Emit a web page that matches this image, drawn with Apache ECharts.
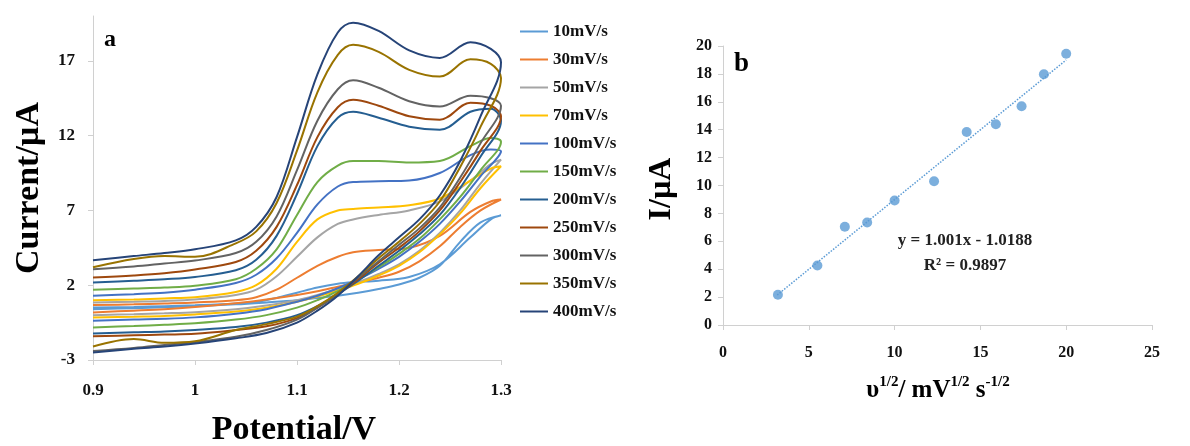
<!DOCTYPE html>
<html><head><meta charset="utf-8">
<script src="https://cdn.jsdelivr.net/npm/echarts@6/dist/echarts.min.js"></script>
<style>html,body{margin:0;padding:0;background:#fff}#c{width:1190px;height:446px}</style>
</head><body><div id="c"></div><script>
// ---- Data: panel a (cyclic voltammograms) ----
const rates = ['10mV/s','30mV/s','50mV/s','70mV/s','100mV/s','150mV/s','200mV/s','250mV/s','300mV/s','350mV/s','400mV/s'];
const upperV = [0.90, 0.94, 0.97, 1.00, 1.04, 1.06, 1.08, 1.10, 1.12, 1.14, 1.155, 1.18, 1.21, 1.24, 1.27, 1.29, 1.30];
const lowerV = [1.28, 1.26, 1.24, 1.22, 1.20, 1.18, 1.16, 1.14, 1.12, 1.10, 1.07, 1.04, 1.00, 0.97, 0.94, 0.90];
const up10  = [0.51, 0.55, 0.60, 0.66, 0.78, 0.90, 1.15, 1.50, 1.85, 2.10, 2.20, 2.30, 2.55, 3.40, 5.20, 6.40, 6.67];
const up30  = [0.67, 0.72, 0.78, 0.85, 1.00, 1.20, 1.70, 2.50, 3.30, 3.90, 4.20, 4.35, 4.50, 5.30, 6.90, 7.60, 7.73];
const up50  = [0.84, 0.90, 0.95, 1.05, 1.35, 1.70, 2.60, 3.90, 5.20, 6.10, 6.40, 6.70, 7.00, 7.60, 9.00, 10.10, 10.40];
const up70  = [1.00, 1.05, 1.12, 1.20, 1.55, 2.00, 3.10, 4.90, 6.40, 7.00, 7.10, 7.20, 7.35, 7.80, 9.00, 9.80, 9.95];
const up100 = [1.29, 1.40, 1.50, 1.70, 2.15, 2.70, 3.80, 5.50, 7.40, 8.60, 8.90, 8.95, 9.00, 9.50, 10.70, 11.07, 10.95];
const up150 = [1.69, 1.78, 1.85, 1.97, 2.40, 3.10, 4.40, 6.70, 8.90, 10.00, 10.30, 10.30, 10.20, 10.30, 11.30, 11.85, 11.60];
const up200 = [2.18, 2.30, 2.40, 2.55, 3.00, 3.70, 5.30, 8.10, 11.30, 13.20, 13.60, 13.20, 12.60, 12.40, 13.60, 13.80, 13.00];
const up250 = [2.51, 2.65, 2.80, 3.05, 3.55, 4.30, 5.90, 8.70, 11.90, 13.90, 14.40, 14.00, 13.30, 13.07, 14.20, 14.00, 13.30];
const up300 = [3.07, 3.25, 3.45, 3.65, 4.15, 4.90, 6.60, 9.70, 13.00, 15.10, 15.70, 15.20, 14.30, 13.95, 14.67, 14.50, 14.00];
const up350 = [3.20, 3.75, 3.95, 3.90, 4.80, 5.60, 7.50, 11.00, 14.90, 17.40, 18.07, 17.60, 16.40, 15.95, 17.10, 16.80, 15.85];
const up400 = [3.67, 3.95, 4.15, 4.40, 5.00, 5.90, 7.90, 11.90, 16.10, 18.90, 19.55, 19.00, 17.70, 17.20, 18.25, 17.80, 16.90];
const lo10  = [6.20, 4.90, 3.30, 2.50, 2.05, 1.75, 1.50, 1.30, 1.15, 1.00, 0.85, 0.72, 0.60, 0.52, 0.46, 0.40];
const lo30  = [7.00, 5.90, 4.60, 3.60, 2.90, 2.50, 2.20, 1.90, 1.60, 1.35, 1.05, 0.80, 0.55, 0.40, 0.30, 0.18];
const lo50  = [8.80, 7.00, 5.50, 4.30, 3.40, 2.75, 2.20, 1.75, 1.35, 1.00, 0.65, 0.40, 0.20, 0.12, 0.06, 0.00];
const lo70  = [8.50, 6.80, 5.40, 4.20, 3.30, 2.65, 2.10, 1.65, 1.25, 0.90, 0.50, 0.25, 0.05, -0.05, -0.10, -0.16];
const lo100 = [9.30, 7.60, 6.10, 4.90, 3.90, 3.10, 2.40, 1.80, 1.30, 0.90, 0.40, 0.10, -0.15, -0.25, -0.30, -0.38];
const lo150 = [9.70, 7.90, 6.40, 5.10, 4.10, 3.20, 2.40, 1.60, 1.00, 0.50, 0.00, -0.30, -0.55, -0.65, -0.73, -0.82];
const lo200 = [10.60, 8.50, 6.70, 5.40, 4.30, 3.30, 2.30, 1.40, 0.60, 0.00, -0.50, -0.80, -1.00, -1.10, -1.15, -1.22];
const lo250 = [11.00, 8.90, 7.00, 5.60, 4.50, 3.50, 2.40, 1.40, 0.50, -0.20, -0.75, -1.00, -1.25, -1.30, -1.35, -1.42];
const lo300 = [11.50, 9.20, 7.20, 5.80, 4.70, 3.60, 2.50, 1.40, 0.50, -0.30, -1.00, -1.45, -1.80, -2.00, -2.20, -2.40];
const lo350 = [12.60, 9.90, 7.60, 6.10, 4.90, 3.80, 2.60, 1.50, 0.60, -0.10, -0.60, -1.00, -1.75, -1.85, -1.60, -2.10];
const lo400 = [13.30, 10.30, 8.00, 6.40, 5.20, 4.00, 2.60, 1.30, 0.30, -0.50, -1.20, -1.55, -1.90, -2.10, -2.25, -2.50];
const cvYTicks = [-3, 2, 7, 12, 17];
const cvXTicks = [0.9, 1.0, 1.1, 1.2, 1.3];

// ---- Data: panel b (peak current vs sqrt scan rate) ----
const sqrtRate = [3.2, 5.5, 7.1, 8.4, 10.0, 12.3, 14.2, 15.9, 17.4, 18.7, 20.0];
const peakI    = [2.17, 4.27, 7.04, 7.35, 8.93, 10.31, 13.84, 14.39, 15.68, 17.97, 19.45];
const trendX   = [3.16, 20.0];
const trendY   = [2.15, 19.0];
const eqLine1  = 'y = 1.001x - 1.0188';
const eqLine2  = 'R² = 0.9897';

// ---- Styling ----
const colors = ['#5B9BD5','#ED7D31','#A5A5A5','#FFC000','#4472C4','#70AD47','#255E91','#9E480E','#636363','#997300','#264478'];
const FF = '"Liberation Serif", "Times New Roman", serif';
const axisGray = '#D0D0D0';

const uppers = [up10, up30, up50, up70, up100, up150, up200, up250, up300, up350, up400];
const lowers = [lo10, lo30, lo50, lo70, lo100, lo150, lo200, lo250, lo300, lo350, lo400];

const cvSeries = rates.map((name, i) => ({
  type: 'line', name, xAxisIndex: 0, yAxisIndex: 0,
  data: upperV.map((v, k) => [v, uppers[i][k]]).concat(lowerV.map((v, k) => [v, lowers[i][k]])),
  symbol: 'none', smooth: 0.35,
  lineStyle: { width: 2, color: colors[i] }, itemStyle: { color: colors[i] }
}));

const labelStyle = (size) => ({ color: '#111', fontFamily: FF, fontWeight: 'bold', fontSize: size });

const option = {
  animation: false,
  backgroundColor: '#fff',
  grid: [
    { left: 93, top: 16, width: 408, height: 344 },
    { left: 723, top: 46, width: 429, height: 279 }
  ],
  xAxis: [
    { gridIndex: 0, type: 'value', min: 0.9, max: 1.3,
      axisLine: { show: true, onZero: false, lineStyle: { color: axisGray } },
      axisTick: { show: true, length: 5, lineStyle: { color: axisGray }, customValues: cvXTicks },
      axisLabel: Object.assign({ margin: 22, customValues: cvXTicks, formatter: v => String(+v.toFixed(1)) }, labelStyle(17)),
      splitLine: { show: false } },
    { gridIndex: 1, type: 'value', min: 0, max: 25, interval: 5,
      axisLine: { show: true, onZero: false, lineStyle: { color: axisGray } },
      axisTick: { show: true, length: 5, lineStyle: { color: axisGray } },
      axisLabel: Object.assign({ margin: 20 }, labelStyle(16)),
      splitLine: { show: false } }
  ],
  yAxis: [
    { gridIndex: 0, type: 'value', min: -3, max: 20,
      axisLine: { show: true, onZero: false, lineStyle: { color: axisGray } },
      axisTick: { show: true, length: 5, lineStyle: { color: axisGray }, customValues: cvYTicks },
      axisLabel: Object.assign({ margin: 18, customValues: cvYTicks }, labelStyle(17)),
      splitLine: { show: false } },
    { gridIndex: 1, type: 'value', min: 0, max: 20, interval: 2,
      axisLine: { show: true, onZero: false, lineStyle: { color: axisGray } },
      axisTick: { show: true, length: 5, lineStyle: { color: axisGray } },
      axisLabel: Object.assign({ margin: 11 }, labelStyle(16)),
      splitLine: { show: false } }
  ],
  legend: {
    data: rates, orient: 'vertical', left: 515, top: 18,
    itemWidth: 28, itemHeight: 14, itemGap: 11,
    textStyle: labelStyle(17), icon: 'path://M0,6 L28,6 L28,8 L0,8 Z'
  },
  series: cvSeries.concat([
    { type: 'line', name: 'trend', xAxisIndex: 1, yAxisIndex: 1,
      data: trendX.map((x, k) => [x, trendY[k]]), symbol: 'none', silent: true,
      lineStyle: { type: 'dotted', width: 1.5, color: '#5B9BD5' } },
    { type: 'scatter', name: 'peak', xAxisIndex: 1, yAxisIndex: 1,
      data: sqrtRate.map((x, k) => [x, peakI[k]]), symbolSize: 10,
      itemStyle: { color: '#5B9BD5' } }
  ]),
  graphic: [
    { type: 'text', x: 29, y: 188, rotation: Math.PI / 2,
      style: { text: 'Current/µA', font: 'bold 34px ' + FF, fill: '#000', align: 'center', verticalAlign: 'middle' } },
    { type: 'text', x: 294, y: 430,
      style: { text: 'Potential/V', font: 'bold 34px ' + FF, fill: '#000', align: 'center', verticalAlign: 'middle' } },
    { type: 'text', x: 104, y: 40,
      style: { text: 'a', font: 'bold 24px ' + FF, fill: '#000', align: 'left', verticalAlign: 'middle' } },
    { type: 'text', x: 734, y: 64,
      style: { text: 'b', font: 'bold 27px ' + FF, fill: '#000', align: 'left', verticalAlign: 'middle' } },
    { type: 'text', x: 662, y: 189, rotation: Math.PI / 2,
      style: { text: 'I/µA', font: 'bold 32px ' + FF, fill: '#000', align: 'center', verticalAlign: 'middle' } },
    { type: 'text', x: 965, y: 241,
      style: { text: eqLine1, font: 'bold 17px ' + FF, fill: '#222', align: 'center', verticalAlign: 'middle' } },
    { type: 'text', x: 965, y: 266,
      style: { text: eqLine2, font: 'bold 17px ' + FF, fill: '#222', align: 'center', verticalAlign: 'middle' } },
    { type: 'text', x: 938, y: 388,
      style: {
        text: '{m|υ}{s|1/2}{m|/ mV}{s|1/2}{m| s}{s|-1/2}',
        align: 'center', verticalAlign: 'middle', fill: '#000',
        rich: {
          m: { fontFamily: FF, fontWeight: 'bold', fontSize: 25, lineHeight: 30, verticalAlign: 'bottom', fill: '#000' },
          s: { fontFamily: FF, fontWeight: 'bold', fontSize: 15, lineHeight: 30, verticalAlign: 'top', fill: '#000', padding: [2, 0, 0, 0] }
        }
      } }
  ]
};

const chart = echarts.init(document.getElementById('c'), null, { renderer: 'canvas' });
chart.setOption(option);
</script></body></html>
